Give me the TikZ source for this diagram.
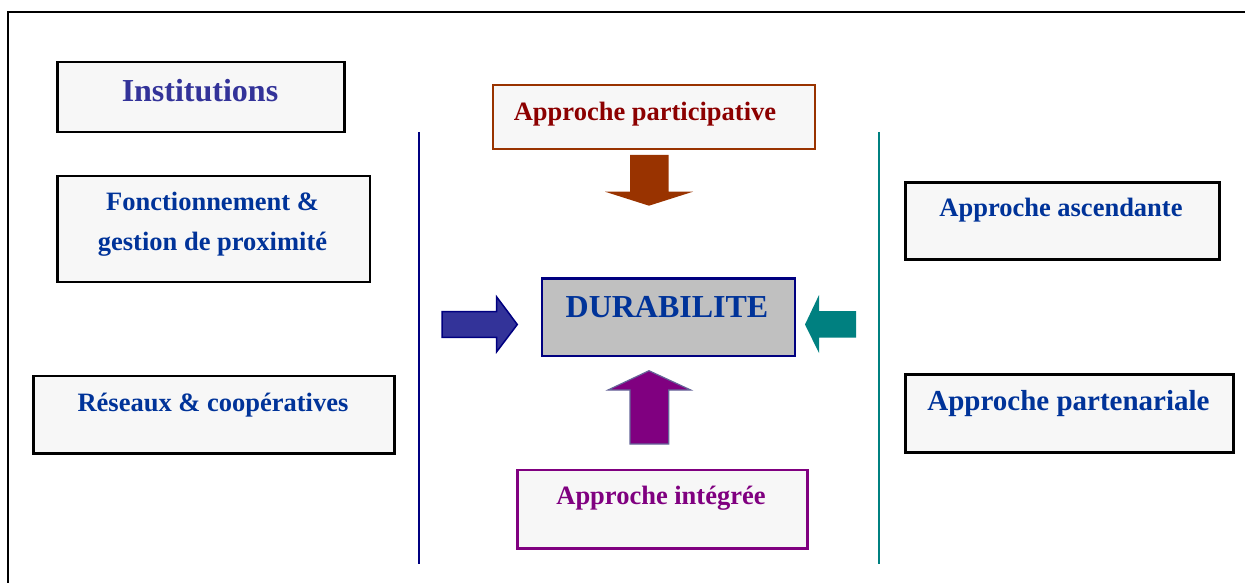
\documentclass[tikz,border=0pt]{standalone}
\usepackage{fontspec}
\setmainfont{Liberation Serif}
\usetikzlibrary{positioning}
\definecolor{boxfill}{HTML}{F7F7F7}
\definecolor{dblue}{HTML}{003399}
\definecolor{instblue}{HTML}{333399}
\definecolor{partred}{HTML}{8C0000}
\definecolor{partbrown}{HTML}{993300}
\definecolor{intpurple}{HTML}{800080}
\definecolor{navyline}{HTML}{000080}
\definecolor{tealline}{HTML}{008080}
\definecolor{lavender}{HTML}{666699}
\definecolor{durgray}{HTML}{C0C0C0}
\tikzset{
  box/.style={draw=black, line width=2.5pt, fill=boxfill, inner sep=0pt, anchor=north west},
  lbl/.style={font=\bfseries\fontsize{26.5}{40}\selectfont, text=dblue, align=center, anchor=base, inner sep=0pt},
}

\begin{document}
\begin{tikzpicture}[x=1pt,y=-1pt]
\useasboundingbox (0,0) rectangle (1245,583);
\draw[line width=2pt] (1260,12.5) -- (8,12.5) -- (8,600);

% left column
\node[box, minimum width=287, minimum height=70] (inst) at (56,61) {};
\node[lbl, text=instblue, font=\bfseries\fontsize{32}{38}\selectfont] (instT) at (200,101.7) {Institutions};
\node[box, minimum width=312.6, minimum height=106] (fonct) at (56.2,174.5) {};
\node[lbl] (fonctT) at (212.5,250) {Fonctionnement \&\\gestion de proximité};
\node[box, minimum width=361, minimum height=77.6] (reseaux) at (32.2,374.5) {};
\node[lbl] (reseauxT) at (213,411) {Réseaux \& coopératives};

% separators
\draw[navyline, line width=2pt] (419,132) -- (419,564);
\draw[tealline, line width=2pt] (879,132) -- (879,564);

% centre
\node[box, draw=partbrown, line width=2pt, minimum width=321.6, minimum height=63.6] (partic) at (492.2,84.5) {};
\node[lbl, text=partred] (particT) at (645,120.7) {Approche participative};
\node[box, draw=navyline, fill=durgray, minimum width=253, minimum height=77.5] (durab) at (540.5,277) {};
\node[lbl, font=\bfseries\fontsize{32}{38}\selectfont] (durabT) at (667,317.7) {DURABILITE};
\node[box, draw=intpurple, minimum width=290, minimum height=78.6] (integ) at (516.2,468.5) {};
\node[lbl, text=intpurple] (integT) at (661,504) {Approche intégrée};

% block arrows
\fill[partbrown] (630,155) -- (668.7,155) -- (668.7,191.7) -- (693,191.7) -- (649,205.7) -- (605,191.7) -- (630,191.7) -- cycle;
\draw[navyline, fill=instblue, line width=1.5pt] (442,311.7) -- (496.7,311.7) -- (496.7,297) -- (517.3,324.5) -- (496.7,351.7) -- (496.7,337.3) -- (442,337.3) -- cycle;
\fill[tealline] (856,311) -- (819,311) -- (819,295) -- (805,324.5) -- (819,353) -- (819,337.7) -- (856,337.7) -- cycle;
\draw[lavender, fill=intpurple, line width=1.2pt] (630,444) -- (630,390) -- (608,390) -- (649,370.7) -- (690.7,390) -- (668.7,390) -- (668.7,444) -- cycle;

% right column
\node[box, minimum width=314, minimum height=76.8] (ascend) at (904,181.2) {};
\node[lbl] (ascendT) at (1061,216.7) {Approche ascendante};
\node[box, minimum width=328, minimum height=78] (parten) at (904,373) {};
\node[lbl, font=\bfseries\fontsize{29}{35}\selectfont] (partenT) at (1068.5,410) {Approche partenariale};
\end{tikzpicture}
\end{document}
